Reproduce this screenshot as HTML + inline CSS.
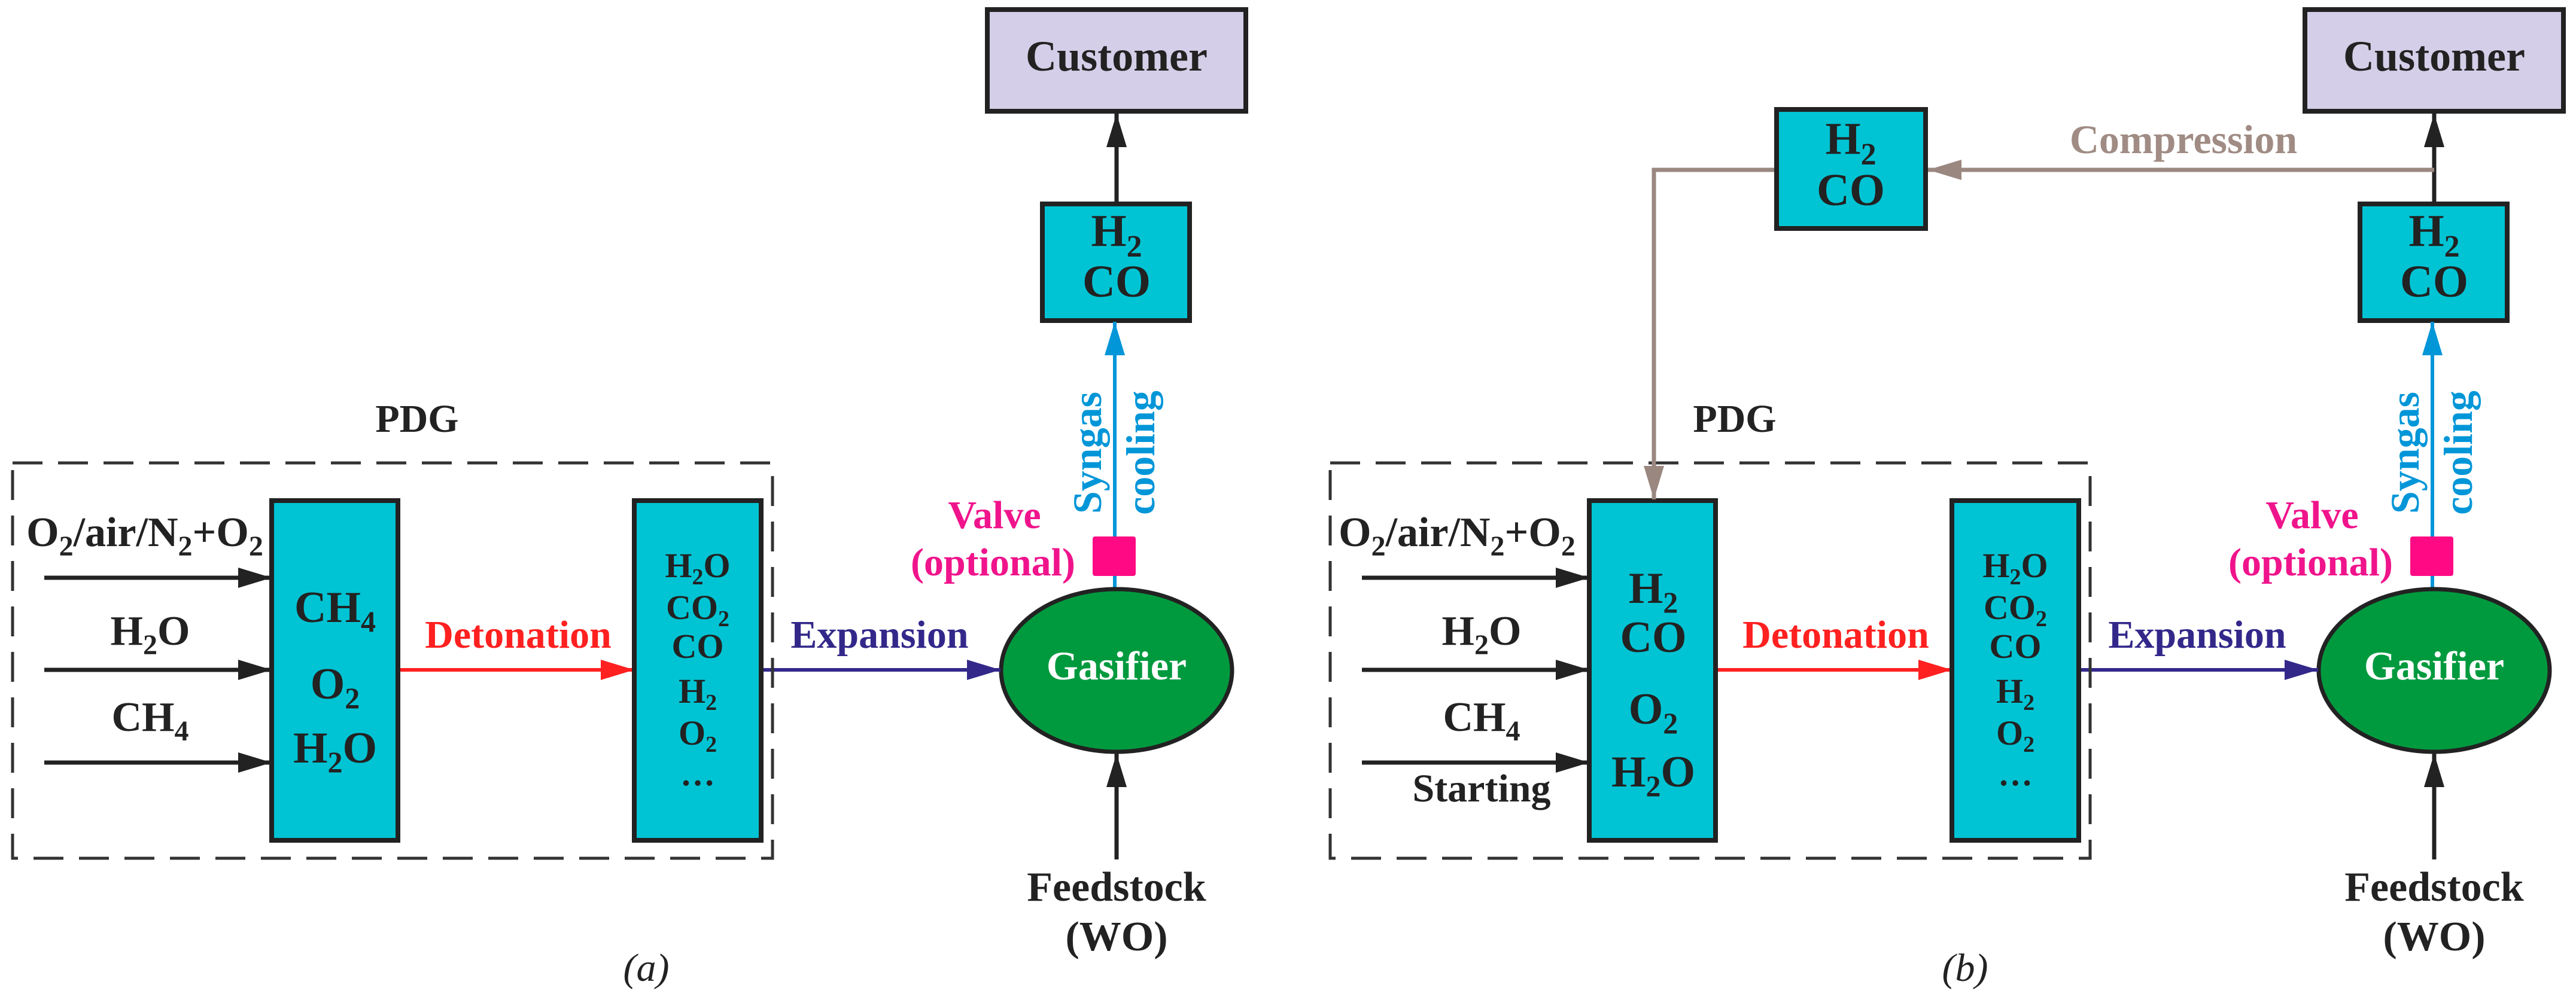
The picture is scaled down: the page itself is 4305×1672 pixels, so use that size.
<!DOCTYPE html>
<html><head><meta charset="utf-8"><style>
html,body{margin:0;padding:0;background:#fff;}
svg{display:block;}
svg text{font-family:"Liberation Serif","Times New Roman",serif;font-weight:bold;}
</style></head><body>
<svg width="4305" height="1672" viewBox="0 0 4305 1672" xmlns="http://www.w3.org/2000/svg" font-family="Liberation Serif, serif" font-weight="bold">
<defs>
<marker id="mk" markerUnits="userSpaceOnUse" markerWidth="60" markerHeight="40" refX="56" refY="17" orient="auto"><path d="M0,0 L56,17 L0,34 z" fill="#222"/></marker>
<marker id="mr" markerUnits="userSpaceOnUse" markerWidth="60" markerHeight="40" refX="56" refY="17" orient="auto"><path d="M0,0 L56,17 L0,34 z" fill="#ff2020"/></marker>
<marker id="mp" markerUnits="userSpaceOnUse" markerWidth="60" markerHeight="40" refX="56" refY="17" orient="auto"><path d="M0,0 L56,17 L0,34 z" fill="#33288a"/></marker>
<marker id="mb" markerUnits="userSpaceOnUse" markerWidth="60" markerHeight="40" refX="56" refY="17" orient="auto"><path d="M0,0 L56,17 L0,34 z" fill="#0096d8"/></marker>
<marker id="mg" markerUnits="userSpaceOnUse" markerWidth="60" markerHeight="40" refX="56" refY="17" orient="auto"><path d="M0,0 L56,17 L0,34 z" fill="#9a8780"/></marker>
</defs>

<g id="common">
<rect x="1650" y="16" width="432" height="170" fill="#d4cee8" stroke="#222" stroke-width="8"/>
<text x="1866" y="118" font-size="72" text-anchor="middle" fill="#222">Customer</text>
<line x1="1866" y1="341" x2="1866" y2="190" stroke="#222" stroke-width="7" marker-end="url(#mk)"/>
<rect x="1742" y="341" width="246" height="195" fill="#00c4d4" stroke="#222" stroke-width="8"/>
<text x="1866" y="411" font-size="76" text-anchor="middle" fill="#222">H<tspan font-size="52" dy="18">2</tspan></text>
<text x="1866" y="496" font-size="76" text-anchor="middle" fill="#222">CO</text>
<line x1="1863" y1="985" x2="1863" y2="897" stroke="#0096d8" stroke-width="6"/>
<line x1="1863" y1="897" x2="1863" y2="538" stroke="#0096d8" stroke-width="6" marker-end="url(#mb)"/>
<rect x="1826" y="897" width="72" height="66" rx="4" fill="#ff0a84"/>
<text transform="translate(1840,757) rotate(-90)" font-size="68" text-anchor="middle" fill="#0096d8">Syngas</text>
<text transform="translate(1929,757) rotate(-90)" font-size="68" text-anchor="middle" fill="#0096d8">cooling</text>
<text x="1662" y="883" font-size="66" text-anchor="middle" fill="#f0148c">Valve</text>
<text x="1797" y="962" font-size="66" text-anchor="end" fill="#f0148c">(optional)</text>
<ellipse cx="1866" cy="1121" rx="193" ry="136" fill="#009a3e" stroke="#222" stroke-width="7"/>
<text x="1866" y="1136" font-size="68" text-anchor="middle" fill="#fff">Gasifier</text>
<line x1="1866" y1="1437" x2="1866" y2="1260" stroke="#222" stroke-width="7" marker-end="url(#mk)"/>
<text x="1866" y="1506" font-size="70" text-anchor="middle" fill="#222">Feedstock</text>
<text x="1866" y="1589" font-size="70" text-anchor="middle" fill="#222">(WO)</text>
<line x1="1272" y1="1120" x2="1672" y2="1120" stroke="#33288a" stroke-width="6" marker-end="url(#mp)"/>
<text x="1470" y="1083" font-size="66" text-anchor="middle" fill="#33288a">Expansion</text>
<line x1="667" y1="1120" x2="1060" y2="1120" stroke="#ff2020" stroke-width="6" marker-end="url(#mr)"/>
<text x="866" y="1083" font-size="66" text-anchor="middle" fill="#ff2020">Detonation</text>
<rect x="21" y="774" width="1270" height="661" fill="none" stroke="#333" stroke-width="5" stroke-dasharray="50,26"/>
<text x="697" y="722" font-size="66" text-anchor="middle" fill="#222">PDG</text>
<rect x="454" y="837" width="211" height="568" fill="#00c4d4" stroke="#222" stroke-width="8"/>
<rect x="1060" y="837" width="212" height="568" fill="#00c4d4" stroke="#222" stroke-width="8"/>
<g font-size="58" text-anchor="middle" fill="#222">
<text x="1166" y="965">H<tspan font-size="38" dy="12">2</tspan><tspan dy="-12">O</tspan></text>
<text x="1166" y="1035">CO<tspan font-size="38" dy="12">2</tspan></text>
<text x="1166" y="1100">CO</text>
<text x="1166" y="1175">H<tspan font-size="38" dy="12">2</tspan></text>
<text x="1166" y="1245">O<tspan font-size="38" dy="12">2</tspan></text>
<text x="1166" y="1313">…</text>
</g>
<line x1="74" y1="966" x2="454" y2="966" stroke="#222" stroke-width="7" marker-end="url(#mk)"/>
<line x1="74" y1="1120" x2="454" y2="1120" stroke="#222" stroke-width="7" marker-end="url(#mk)"/>
<line x1="74" y1="1275" x2="454" y2="1275" stroke="#222" stroke-width="7" marker-end="url(#mk)"/>
</g>

<g fill="#222" font-size="70" text-anchor="middle">
<text x="242" y="913">O<tspan font-size="48" dy="16">2</tspan><tspan dy="-16">/air/N</tspan><tspan font-size="48" dy="16">2</tspan><tspan dy="-16">+O</tspan><tspan font-size="48" dy="16">2</tspan></text>
<text x="251" y="1078">H<tspan font-size="48" dy="16">2</tspan><tspan dy="-16">O</tspan></text>
<text x="251" y="1222">CH<tspan font-size="48" dy="16">4</tspan></text>
<g font-size="74">
<text x="560" y="1040">CH<tspan font-size="50" dy="16">4</tspan></text>
<text x="560" y="1168">O<tspan font-size="50" dy="16">2</tspan></text>
<text x="560" y="1275">H<tspan font-size="50" dy="16">2</tspan><tspan dy="-16">O</tspan></text>
</g>
</g>
<text x="1080" y="1640" font-size="66" font-style="italic" text-anchor="middle" fill="#222" style="font-weight:normal">(a)</text>

<use href="#common" transform="translate(2202,0)"/>
<g fill="#222" font-size="70" text-anchor="middle">
<text x="2435" y="913">O<tspan font-size="48" dy="16">2</tspan><tspan dy="-16">/air/N</tspan><tspan font-size="48" dy="16">2</tspan><tspan dy="-16">+O</tspan><tspan font-size="48" dy="16">2</tspan></text>
<text x="2476" y="1078">H<tspan font-size="48" dy="16">2</tspan><tspan dy="-16">O</tspan></text>
<text x="2476" y="1222">CH<tspan font-size="48" dy="16">4</tspan></text>
<text x="2476" y="1340" font-size="66">Starting</text>
<g font-size="74">
<text x="2763" y="1008">H<tspan font-size="50" dy="16">2</tspan></text>
<text x="2763" y="1090">CO</text>
<text x="2763" y="1210">O<tspan font-size="50" dy="16">2</tspan></text>
<text x="2763" y="1315">H<tspan font-size="50" dy="16">2</tspan><tspan dy="-16">O</tspan></text>
</g>
</g>
<line x1="4068" y1="284" x2="3222" y2="284" stroke="#9a8780" stroke-width="7" marker-end="url(#mg)"/>
<polyline points="2969,284 2764,284 2764,835" fill="none" stroke="#9a8780" stroke-width="7" marker-end="url(#mg)"/>
<rect x="2969" y="183" width="249" height="199" fill="#00c4d4" stroke="#222" stroke-width="8"/>
<text x="3093" y="257" font-size="76" text-anchor="middle" fill="#222">H<tspan font-size="52" dy="18">2</tspan></text>
<text x="3093" y="343" font-size="76" text-anchor="middle" fill="#222">CO</text>
<text x="3649" y="256" font-size="68" text-anchor="middle" fill="#a08c84">Compression</text>
<text x="3284" y="1640" font-size="66" font-style="italic" text-anchor="middle" fill="#222" style="font-weight:normal">(b)</text>
</svg>
</body></html>
